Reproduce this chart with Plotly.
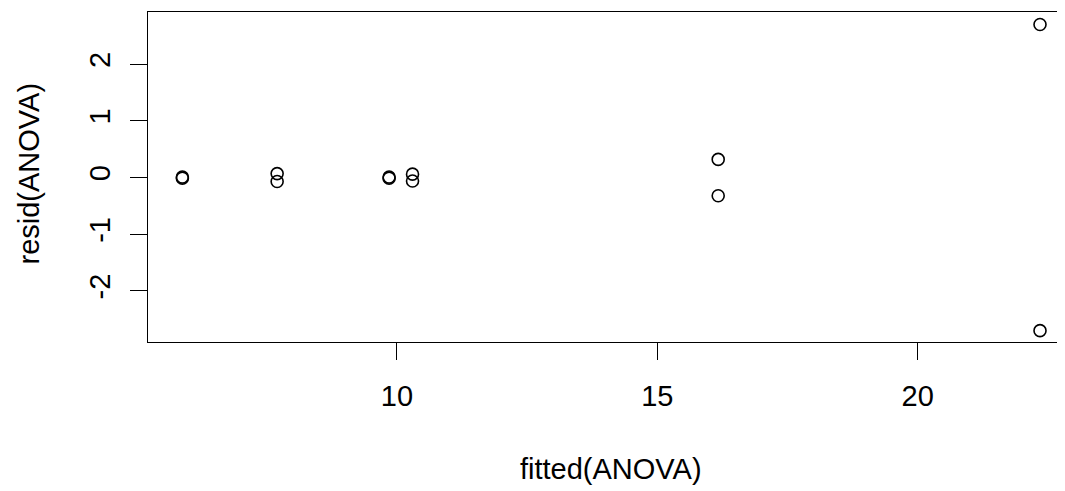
import plotly.graph_objects as go

fitted = [5.88, 5.88, 7.70, 7.70, 9.85, 9.85, 10.30, 10.30, 16.17, 16.17, 22.35, 22.35]
resid = [0.01, -0.01, 0.07, -0.07, 0.01, -0.01, 0.06, -0.06, 0.32, -0.32, 2.70, -2.70]
x_ticks = [10, 15, 20]
y_ticks = [-2, -1, 0, 1, 2]
x_title = "fitted(ANOVA)"
y_title = "resid(ANOVA)"

FONT = "Liberation Sans, Arial, sans-serif"
FS = 29

fig = go.Figure()
fig.add_trace(go.Scatter(
    x=fitted, y=resid, mode="markers",
    marker=dict(symbol="circle-open", size=12, color="black", line=dict(width=1.6, color="black")),
    showlegend=False, cliponaxis=False,
))

# the page body adds an 8px margin, so the figure is 8px smaller and margins shifted
fig.update_layout(
    width=1057, height=483,
    margin=dict(l=140, r=0, t=4, b=149),
    paper_bgcolor="white", plot_bgcolor="white",
    font=dict(family=FONT, size=FS, color="black"),
    xaxis=dict(
        range=[5.22, 22.83], tickvals=x_ticks, ticktext=[str(v) for v in x_ticks],
        showgrid=False, zeroline=False, showline=True, linecolor="black", linewidth=1.3,
        mirror=True, ticks="outside", ticklen=17, tickwidth=1.2, tickcolor="black",
        ticklabelstandoff=11, tickfont=dict(size=FS),
    ),
    yaxis=dict(
        range=[-2.9, 2.92], tickvals=y_ticks, ticktext=[str(v) for v in y_ticks],
        showgrid=False, zeroline=False, showline=True, linecolor="black", linewidth=1.3,
        mirror=False, ticks="outside", ticklen=17, tickwidth=1.2, tickcolor="black",
        tickangle=-90, ticklabelstandoff=8, tickfont=dict(size=FS),
    ),
    annotations=[
        dict(text=x_title, xref="paper", yref="paper", x=0.5045, y=-0.385,
             xanchor="center", yanchor="middle", showarrow=False, font=dict(size=FS)),
        dict(text=y_title, xref="paper", yref="paper", x=-0.13, y=0.51, textangle=-90,
             xanchor="center", yanchor="middle", showarrow=False, font=dict(size=FS)),
    ],
)

fig.write_html("out.html")
